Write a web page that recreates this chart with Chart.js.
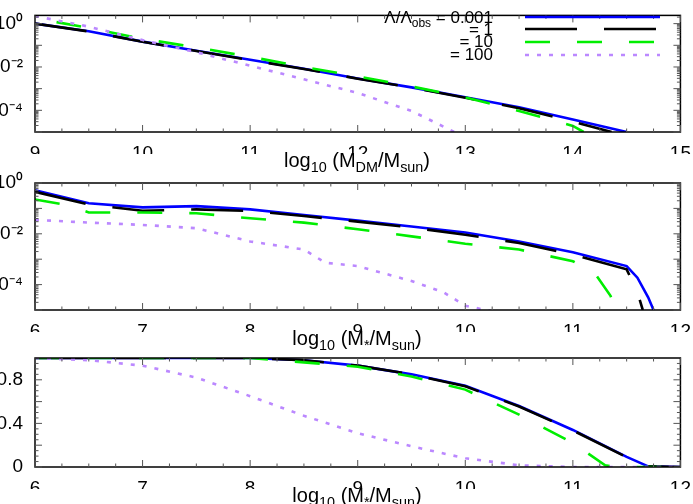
<!DOCTYPE html>
<html><head><meta charset="utf-8">
<script src="https://cdn.jsdelivr.net/npm/chart.js@4"></script>
<style>html,body{margin:0;padding:0;background:#fff;overflow:hidden;width:693px;height:504px}
canvas{position:absolute;left:-15px;top:0}</style></head>
<body>
<canvas id="c1" width="708" height="504"></canvas>
<canvas id="c2" width="708" height="504"></canvas>
<canvas id="c3" width="708" height="504"></canvas>
<script>
// ---------- data (log10 values for panels 1 and 2) ----------
const seriesLabels = ["= 0.001", "= 1", "= 10", "= 100"];
const colors = ["#0000ff", "#000000", "#00ee00", "#bb88ff"];

const p1BlueX = [9, 9.5, 10, 10.5, 11, 11.5, 12, 12.5, 13, 13.5, 14, 14.5];
const p1BlueY = [0, -0.35, -0.83, -1.25, -1.67, -2.08, -2.53, -2.94, -3.4, -3.86, -4.42, -5];
const p1BlackX = [9, 9.5, 10, 10.5, 11, 11.5, 12, 12.5, 13, 13.5, 14, 14.36];
const p1BlackY = [0, -0.36, -0.84, -1.26, -1.68, -2.09, -2.54, -2.95, -3.42, -3.9, -4.52, -5];
const p1GreenX = [9.2, 9.5, 10, 10.5, 11, 11.5, 12, 12.5, 13, 13.5, 14, 14.1];
const p1GreenY = [0.07, -0.2, -0.7, -1.1, -1.53, -2.0, -2.43, -2.9, -3.4, -4.03, -4.72, -5];
const p1PurpleX = [9, 9.5, 10, 10.5, 11, 11.5, 12, 12.5, 12.9];
const p1PurpleY = [0.35, -0.14, -0.76, -1.32, -1.94, -2.57, -3.2, -4.03, -5];

const p2BlueX = [6, 6.5, 7, 7.5, 8, 8.5, 9, 9.5, 10, 10.5, 11, 11.5, 11.6, 11.7, 11.75];
const p2BlueY = [-0.29, -0.8, -0.96, -0.91, -1.04, -1.26, -1.48, -1.71, -1.95, -2.3, -2.73, -3.27, -3.73, -4.5, -5];
const p2BlackX = [6, 6.5, 7, 7.5, 8, 8.5, 9, 9.5, 10, 10.5, 11, 11.5, 11.6, 11.65];
const p2BlackY = [-0.35, -0.85, -1.09, -1.04, -1.1, -1.3, -1.52, -1.75, -2.04, -2.36, -2.82, -3.4, -4.3, -5];
const p2GreenX = [6, 6.3, 6.5, 7, 7.5, 8, 8.5, 9, 9.5, 10, 10.5, 11, 11.2, 11.35, 11.4];
const p2GreenY = [-0.65, -0.87, -1.16, -1.16, -1.19, -1.39, -1.56, -1.82, -2.1, -2.39, -2.62, -3.08, -3.53, -4.44, -5];
const p2PurpleX = [6, 6.5, 7, 7.5, 8, 8.5, 8.7, 9, 9.5, 9.8, 10, 10.3];
const p2PurpleY = [-1.45, -1.56, -1.65, -1.78, -2.3, -2.62, -3.14, -3.27, -3.86, -4.31, -4.83, -5.1];

const p3BlueX = [6, 7, 8, 8.5, 9, 9.5, 10, 10.5, 11, 11.5, 11.7, 12];
const p3BlueY = [1, 1, 1, 0.98, 0.93, 0.85, 0.745, 0.56, 0.34, 0.093, 0.006, 0];
const p3BlackX = p3BlueX;
const p3BlackY = [1, 1, 1, 0.98, 0.93, 0.85, 0.74, 0.555, 0.335, 0.09, 0.006, 0];
const p3GreenX = [6, 7, 8, 8.5, 9, 9.5, 10, 10.5, 11, 11.3, 11.4, 12];
const p3GreenY = [1, 1, 1, 0.96, 0.92, 0.83, 0.71, 0.48, 0.22, 0.016, 0, 0];
const p3PurpleX = [6, 6.5, 7, 7.5, 8, 8.5, 9, 9.5, 10, 10.5, 11, 12];
const p3PurpleY = [1, 0.98, 0.93, 0.82, 0.65, 0.47, 0.31, 0.19, 0.08, 0.016, 0, 0];

const p1XTicks = [9, 10, 11, 12, 13, 14, 15];
const p23XTicks = [6, 7, 8, 9, 10, 11, 12];
const logYTicks = [0, -1, -2, -3, -4, -5];
const linYTicks = [0, 0.2, 0.4, 0.6, 0.8, 1];
const linYLabels = ["0", "0.2", "0.4", "0.6", "0.8", "1"];

// ---------- helpers ----------
const FONT = "Liberation Sans, Arial, sans-serif";
const sup = {"0":"⁰","1":"¹","2":"²","3":"³","4":"⁴","5":"⁵","-":"⁻"};
function supStr(n){return String(n).split("").map(c=>sup[c]).join("");}
function pts(xs, ys, isLog){return xs.map((x,i)=>({x:x, y:isLog?Math.pow(10,ys[i]):ys[i]}));}
const dashes = [[], [52,27], [25,27], [4,8]];

function makeDatasets(list, isLog){
  // list order: blue, black, green, purple; draw purple on top
  const ds = list.map((s,i)=>({label:seriesLabels[i], data:pts(s[0],s[1],isLog),
    borderColor:colors[i], borderWidth:2.6, borderDash:dashes[i], pointRadius:0, tension:0, fill:false}));
  return ds.reverse();
}

function richText(ctx, parts, cx, y, size){
  let w = 0;
  parts.forEach(p=>{ctx.font=(p[1]?size*0.72:size)+"px "+FONT; w+=ctx.measureText(p[0]).width;});
  let x = cx - w/2;
  ctx.textAlign="left"; ctx.textBaseline="alphabetic"; ctx.fillStyle="#000";
  parts.forEach(p=>{ctx.font=(p[1]?size*0.72:size)+"px "+FONT;
    ctx.fillText(p[0], x, p[1]? y+5 : y); x+=ctx.measureText(p[0]).width;});
}

function framePlugin(opts){
  return {id:"frame"+Math.random(), afterDatasetsDraw(chart){
    const ctx=chart.ctx, a=chart.chartArea, xs=chart.scales.x, ys=chart.scales.y;
    ctx.save();
    ctx.strokeStyle="#000"; ctx.lineWidth=1.5;
    ctx.strokeRect(a.left,a.top,a.right-a.left,a.bottom-a.top);
    ctx.lineWidth=1; ctx.strokeStyle="#555";
    const xmin=xs.min, xmax=xs.max;
    for(let v=xmin; v<=xmax+1e-9; v+=0.25){
      const px=xs.getPixelForValue(v); const major=Math.abs(v-Math.round(v))<1e-6; const L=major?7:3.5;
      ctx.beginPath(); ctx.moveTo(px,a.bottom); ctx.lineTo(px,a.bottom-L);
      ctx.moveTo(px,a.top); ctx.lineTo(px,a.top+L); ctx.stroke();
    }
    const yv=[];
    if(opts.log){ for(let d=-5; d<=0; d++){ yv.push([Math.pow(10,d),true]); if(d<0||opts.extra) for(let k=2;k<10;k++) yv.push([k*Math.pow(10,d),false]); } }
    else { for(let v=0; v<=1.0001; v+=0.05) yv.push([v, Math.abs(v*5-Math.round(v*5))<1e-6]); }
    yv.forEach(([v,major])=>{ if(v<ys.min||v>ys.max) return; const py=ys.getPixelForValue(v); const L=major?7:3.5;
      ctx.beginPath(); ctx.moveTo(a.left,py); ctx.lineTo(a.left+L,py);
      ctx.moveTo(a.right,py); ctx.lineTo(a.right-L,py); ctx.stroke();});
    richText(ctx, opts.title, 372, a.bottom+35, 20);
    if(opts.legend){
      ctx.font="17px "+FONT; ctx.fillStyle="#000"; ctx.textAlign="right"; ctx.textBaseline="alphabetic";
      const rows=[23,35,47,60], ly=[17,29,42,55];
      // first row with Λ/Λobs
      const rx=508;
      ctx.fillText("= 0.001", rx, rows[0]);
      let w=ctx.measureText("= 0.001 ").width;
      ctx.font="12px "+FONT; const wobs=ctx.measureText("obs").width;
      ctx.fillText("obs", rx-w, rows[0]+4);
      ctx.font="17px "+FONT; ctx.fillText("Λ/Λ", rx-w-wobs, rows[0]);
      for(let i=1;i<4;i++) ctx.fillText(seriesLabels[i], rx, rows[i]);
      for(let i=0;i<4;i++){ ctx.strokeStyle=colors[i]; ctx.lineWidth=2.6; ctx.setLineDash(dashes[i]);
        ctx.beginPath(); ctx.moveTo(540,ly[i]); ctx.lineTo(675,ly[i]); ctx.stroke(); }
      ctx.setLineDash([]);
    }
    ctx.restore();
  }};
}

function makeChart(id, datasets, cfg){
  const yScale = cfg.log ? {
    type:"logarithmic", min:1e-5, max:cfg.ymax,
    afterBuildTicks(s){ s.ticks = logYTicks.map(d=>({value:Math.pow(10,d)})); },
    ticks:{callback:(v)=>"10"+supStr(Math.round(Math.log10(v))), color:"#000", font:{size:19,family:FONT}, padding:4},
    grid:{display:false}, border:{display:false},
    afterFit(s){ s.width=50; }
  } : {
    type:"linear", min:0, max:1,
    afterBuildTicks(s){ s.ticks = linYTicks.map(v=>({value:v})); },
    ticks:{callback:(v)=>linYLabels[linYTicks.indexOf(Math.round(v*10)/10)] ?? "", color:"#000", font:{size:19,family:FONT}, padding:4},
    grid:{display:false}, border:{display:false},
    afterFit(s){ s.width=50; }
  };
  return new Chart(document.getElementById(id), {
    type:"line",
    data:{datasets},
    options:{
      responsive:false, animation:false, events:[],
      layout:{padding:{top:cfg.top, bottom:cfg.bottom, left:0, right:12}},
      plugins:{legend:{display:false}, tooltip:{enabled:false}},
      scales:{
        x:{type:"linear", min:cfg.xticks[0], max:cfg.xticks[cfg.xticks.length-1],
          afterBuildTicks(s){ s.ticks = cfg.xticks.map(v=>({value:v})); },
          ticks:{color:"#000", font:{size:19,family:FONT}, padding:2, maxRotation:0, autoSkip:false},
          grid:{display:false}, border:{display:false},
          afterFit(s){ s.height=22; }},
        y:yScale
      }
    },
    plugins:[framePlugin(cfg)]
  });
}

makeChart("c1", makeDatasets([[p1BlueX,p1BlueY],[p1BlackX,p1BlackY],[p1GreenX,p1GreenY],[p1PurpleX,p1PurpleY]], true),
  {log:true, ymax:Math.pow(10,0.38), top:5, bottom:504-132-22, xticks:p1XTicks, legend:true, extra:true,
   title:[["log",0],["10",1],[" (M",0],["DM",1],["/M",0],["sun",1],[")",0]]});
makeChart("c2", makeDatasets([[p2BlueX,p2BlueY],[p2BlackX,p2BlackY],[p2GreenX,p2GreenY],[p2PurpleX,p2PurpleY]], true),
  {log:true, ymax:1, top:183, bottom:504-310-22, xticks:p23XTicks,
   title:[["log",0],["10",1],[" (M",0],["*",1],["/M",0],["sun",1],[")",0]]});
makeChart("c3", makeDatasets([[p3BlueX,p3BlueY],[p3BlackX,p3BlackY],[p3GreenX,p3GreenY],[p3PurpleX,p3PurpleY]], false),
  {log:false, top:358, bottom:504-467-22, xticks:p23XTicks,
   title:[["log",0],["10",1],[" (M",0],["*",1],["/M",0],["sun",1],[")",0]]});
</script>
</body></html>
